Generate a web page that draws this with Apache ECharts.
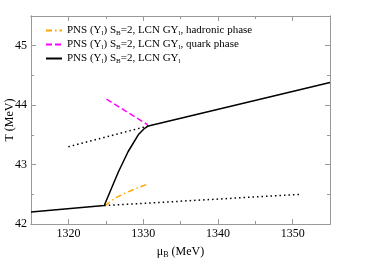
<!DOCTYPE html>
<html><head><meta charset="utf-8">
<script src="https://cdn.jsdelivr.net/npm/echarts@6/dist/echarts.min.js"></script>
<style>html,body{margin:0;padding:0;background:#fff}#c{width:373px;height:270px}</style>
</head><body><div id="c"></div>
<script>
// Data (mu_B [MeV], T [MeV])
const fullCurve = [[1315,42.2],[1324.8,42.31],[1325.6,42.55],[1326.7,42.88],[1328.0,43.22],[1329.35,43.5],[1330.1,43.6],[1330.7,43.65],[1355,44.38]];
const hadronicPhase = [[1324.9,42.31],[1326.3,42.44],[1327.8,42.53],[1329.3,42.61],[1330.8,42.68]];
const quarkPhase = [[1325.1,44.1],[1330.6,43.67]];
const dottedUpper = [[1320,43.3],[1330.7,43.65]];
const dottedLower = [[1324.8,42.31],[1351.2,42.5]];
const xMajor = [1320,1330,1340,1350];
const xMinor = [1315,1325,1335,1345,1355];
const yMajor = [42,43,44,45];
const yMinor = [42.5,43.5,44.5,45.5];
const names = ['hadronic','quark','full'];
const labels = {
  hadronic: 'PNS (Y{s|l}) S{s|B}=2, LCN GY{s|l}, hadronic phase',
  quark: 'PNS (Y{s|l}) S{s|B}=2, LCN GY{s|l}, quark phase',
  full: 'PNS (Y{s|l}) S{s|B}=2, LCN GY{s|l}'
};

const FONT = 'Liberation Serif';
const frame = '#999';
function xAx(pos, ticks, len, showLabel, name) {
  return {type:'value', min:1315, max:1355, position:pos,
    name: name || '', nameLocation:'middle', nameGap:20, nameMoveOverlap:false,
    nameTextStyle:{fontFamily:FONT,fontSize:12,color:'#000',rich:{s:{fontFamily:FONT,fontSize:8,padding:[7,0,0,0]}}},
    axisLine:{show:true,onZero:false,lineStyle:{color:frame,width:1}},
    axisTick:{show:true,inside:true,length:len,customValues:ticks,lineStyle:{color:frame}},
    axisLabel:{show:showLabel,customValues:ticks,formatter:v=>String(v),fontFamily:FONT,fontSize:12,color:'#000',margin:4},
    splitLine:{show:false}};
}
function yAx(pos, ticks, len, showLabel, name) {
  return {type:'value', min:42, max:45.5, position:pos,
    name: name || '', nameLocation:'middle', nameGap:15, nameMoveOverlap:false,
    nameTextStyle:{fontFamily:FONT,fontSize:12,color:'#000'},
    axisLine:{show:true,onZero:false,lineStyle:{color:frame,width:1}},
    axisTick:{show:true,inside:true,length:len,customValues:ticks,lineStyle:{color:frame}},
    axisLabel:{show:showLabel,customValues:ticks,formatter:v=>String(v),fontFamily:FONT,fontSize:12,color:'#000',margin:4},
    splitLine:{show:false}};
}
const chart = echarts.init(document.getElementById('c'), null, {renderer:'canvas'});
chart.setOption({
  animation:false,
  grid:{left:31,right:43,top:16,bottom:46,containLabel:false,outerBoundsMode:'none'},
  xAxis:[xAx('bottom',xMajor,5,true,'μ{s|B} (MeV)'), xAx('bottom',xMinor,3,false), xAx('top',xMajor,5,false), xAx('top',xMinor,3,false)],
  yAxis:[yAx('left',yMajor,5,true,'T (MeV)'), yAx('left',yMinor,3,false), yAx('right',yMajor,5,false), yAx('right',yMinor,3,false)],
  legend:{data:names, orient:'vertical', left:40, top:20, itemWidth:16, itemHeight:8, itemGap:2,
    itemStyle:{opacity:0},
    formatter:n=>labels[n],
    textStyle:{fontFamily:FONT,fontSize:11,color:'#000',rich:{s:{fontFamily:FONT,fontSize:7,padding:[6,0,0,0]}}}},
  series:[
    {name:'hadronic', type:'line', data:hadronicPhase, symbol:'none',
      lineStyle:{color:'#ffa500',width:1.5,type:[6,3,1.5,3]}, itemStyle:{color:'#ffa500'}},
    {name:'quark', type:'line', data:quarkPhase, symbol:'none',
      lineStyle:{color:'#ff00ff',width:1.5,type:[6,3]}, itemStyle:{color:'#ff00ff'}},
    {name:'full', type:'line', data:fullCurve, symbol:'none',
      lineStyle:{color:'#000',width:1.5}, itemStyle:{color:'#000'}},
    {name:'dotU', type:'line', data:dottedUpper, symbol:'none',
      lineStyle:{color:'#000',width:1.5,type:[1.5,3]}},
    {name:'dotL', type:'line', data:dottedLower, symbol:'none',
      lineStyle:{color:'#000',width:1.5,type:[1.5,3]}}
  ]
});
</script></body></html>
